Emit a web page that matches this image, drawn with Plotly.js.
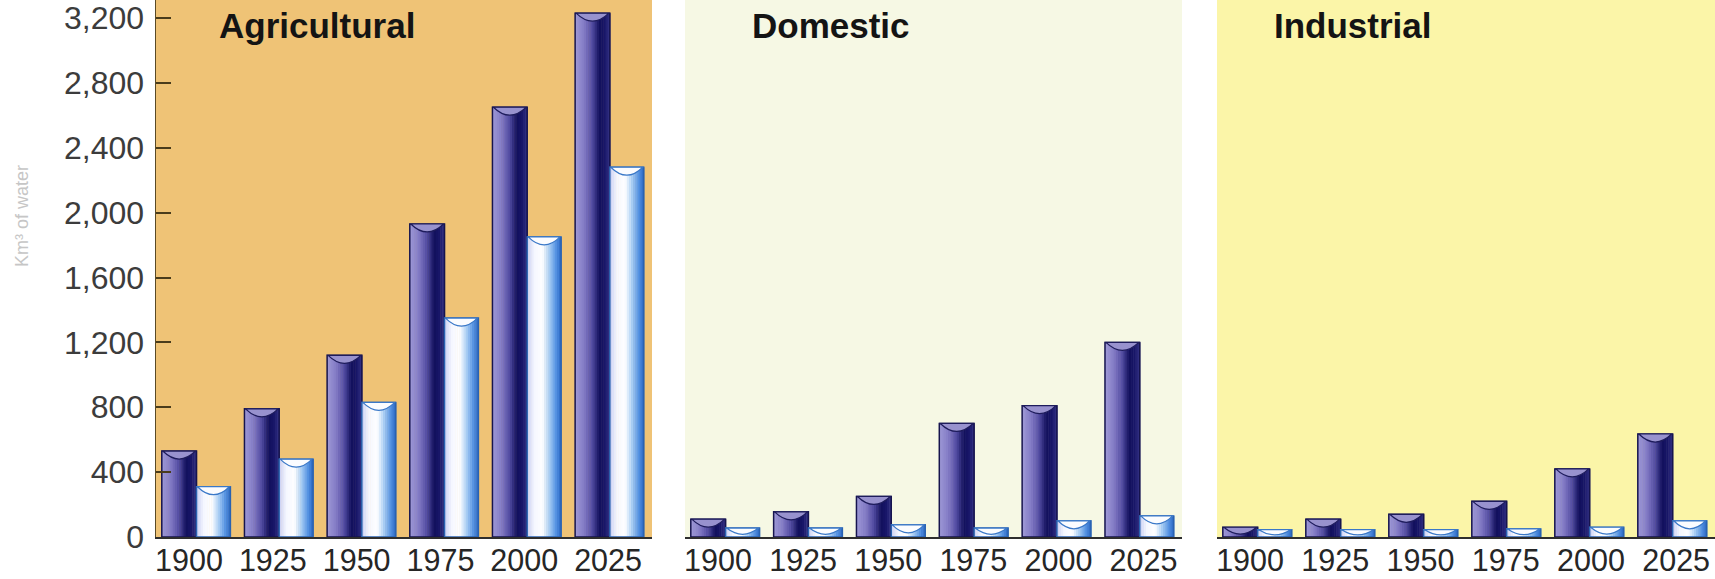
<!DOCTYPE html>
<html>
<head>
<meta charset="utf-8">
<script src="https://cdn.plot.ly/plotly-3.0.1.min.js"></script>
<style>
  html, body { margin: 0; padding: 0; background: #ffffff; }
  #chart { width: 1715px; height: 579px; }
</style>
</head>
<body>
<div id="chart"></div>
<script>
// ---- Data (km³ of water) ----
const years = ['1900', '1925', '1950', '1975', '2000', '2025'];

const panelTitles = ['Agricultural', 'Domestic', 'Industrial'];

// dark (withdrawal) and light (consumption) bars for each sector
const agriculturalDark  = [530, 790, 1120, 1930, 2650, 3230];
const agriculturalLight = [310, 480, 830, 1350, 1850, 2280];

const domesticDark  = [110, 155, 250, 700, 810, 1200];
const domesticLight = [55, 55, 75, 55, 100, 130];

const industrialDark  = [60, 110, 140, 220, 420, 635];
const industrialLight = [45, 45, 45, 50, 60, 100];

const yTickVals = [0, 400, 800, 1200, 1600, 2000, 2400, 2800, 3200];
const yTickText = ['0', '400', '800', '1,200', '1,600', '2,000', '2,400', '2,800', '3,200'];

const yAxisTitle = 'Km³ of water';

// ---- Styling helpers ----
const FONT = '"Liberation Sans", Arial, Helvetica, sans-serif';

const darkStops = [
  [0.00, [158, 152, 214]],
  [0.25, [132, 124, 198]],
  [0.50, [80, 74, 160]],
  [0.70, [18, 16, 92]],
  [0.85, [24, 22, 104]],
  [1.00, [52, 50, 132]]
];
const lightStops = [
  [0.00, [200, 206, 242]],
  [0.20, [244, 246, 255]],
  [0.45, [255, 255, 255]],
  [0.65, [170, 206, 244]],
  [0.85, [84, 146, 226]],
  [1.00, [44, 104, 196]]
];

function interp(stops, t) {
  for (let i = 0; i < stops.length - 1; i++) {
    const [t0, c0] = stops[i];
    const [t1, c1] = stops[i + 1];
    if (t >= t0 && t <= t1) {
      const f = (t - t0) / (t1 - t0 || 1);
      const c = c0.map((v, k) => Math.round(v + (c1[k] - v) * f));
      return 'rgb(' + c.join(',') + ')';
    }
  }
  const c = stops[stops.length - 1][1];
  return 'rgb(' + c.join(',') + ')';
}

const W = 1715, H = 579, B = 42;
const plotH = H - B;
const yTop = 3200 * plotH / (plotH - 18);
const capDepth = 8 * yTop / plotH;   // ~8 px deep cylinder cap, in data units

const STRIPS = 16;
function cylinderTraces(values, xa, ya, offset, width, stops, lineColor) {
  const out = [];
  const w = width / STRIPS;
  for (let i = 0; i < STRIPS; i++) {
    out.push({
      type: 'bar', x: years, y: values, xaxis: xa, yaxis: ya,
      offset: offset + i * w, width: w * 1.25,
      marker: { color: interp(stops, (i + 0.5) / STRIPS), line: { width: 0 } },
      hoverinfo: 'skip', showlegend: false
    });
  }
  out.push({
    type: 'bar', x: years, y: values, xaxis: xa, yaxis: ya,
    offset: offset, width: width,
    marker: { color: 'rgba(0,0,0,0)', line: { color: lineColor, width: 1.5 } },
    hovertemplate: '%{x}: %{y}<extra></extra>', showlegend: false
  });
  return out;
}

// half-ellipse cap at the top of each bar, built from the data values
function capShapes(values, xa, ya, offset, width, fill, lineColor) {
  return values.map((v, i) => {
    const d = Math.min(capDepth, v * 0.7);
    const x0 = i + offset + 0.012, x1 = i + offset + width - 0.012, xc = (x0 + x1) / 2;
    return {
      type: 'path', layer: 'above', xref: xa, yref: ya,
      path: 'M' + x0 + ',' + v + ' Q' + xc + ',' + (v - 2 * d) + ' ' + x1 + ',' + v + ' Z',
      fillcolor: fill, line: { color: lineColor, width: 1.2 }
    };
  });
}

const panels = [
  { dark: agriculturalDark, light: agriculturalLight, xa: 'x',  ya: 'y',  la: 'x4' },
  { dark: domesticDark,     light: domesticLight,     xa: 'x2', ya: 'y2', la: 'x5' },
  { dark: industrialDark,   light: industrialLight,   xa: 'x3', ya: 'y3', la: 'x6' }
];

const DARK_OFF = -0.43, DARK_W = 0.42, LIGHT_OFF = -0.01, LIGHT_W = 0.41;

let data = [];
let caps = [];
panels.forEach(p => {
  data = data.concat(cylinderTraces(p.dark, p.xa, p.ya, DARK_OFF, DARK_W, darkStops, '#16144e'));
  data = data.concat(cylinderTraces(p.light, p.xa, p.ya, LIGHT_OFF, LIGHT_W, lightStops, '#2a62b0'));
  caps = caps.concat(capShapes(p.dark, p.xa, p.ya, DARK_OFF, DARK_W, '#9892ce', '#1e1c5c'));
  caps = caps.concat(capShapes(p.light, p.xa, p.ya, LIGHT_OFF, LIGHT_W, '#fbfcff', '#3a78c8'));
  // invisible carrier so the year-label axis of this panel is drawn
  data.push({
    type: 'scatter', mode: 'markers', x: years.map(Number), y: p.dark,
    xaxis: p.la, yaxis: p.ya, marker: { opacity: 0, size: 1 },
    hoverinfo: 'skip', showlegend: false
  });
});

const xDomains = [
  [156 / W, 652 / W],
  [685 / W, 1182 / W],
  [1217 / W, 1.0]
];
// year labels in the original are spaced slightly wider than the bar groups
const labelRanges = [
  [1890.15, 2038.1],
  [1890.3, 2036.3],
  [1890.3, 2036.4]
];
const panelBg = ['#efc376', '#f6f8e4', '#fbf5a8'];
const titleX = [0.122, 0.13, 0.11];

function xAxis(domain, anchor) {
  return {
    domain: domain, anchor: anchor, type: 'category',
    range: [-0.5, 5.5], fixedrange: true,
    showline: true, linecolor: '#2e2e2e', linewidth: 2,
    ticks: '', showgrid: false, zeroline: false, showticklabels: false
  };
}
function labelAxis(domain, anchor, overlay, range) {
  return {
    domain: domain, anchor: anchor, overlaying: overlay, type: 'linear',
    range: range, fixedrange: true,
    showline: false, ticks: '', showgrid: false, zeroline: false,
    tickvals: years.map(Number), ticktext: years,
    ticklabelstandoff: 2,
    tickfont: { family: FONT, size: 30.5, color: '#262626' }
  };
}
function yAxis(anchor, labels) {
  const ax = {
    domain: [0, 1], anchor: anchor, range: [0, yTop], fixedrange: true,
    showgrid: false, zeroline: false,
    tickvals: yTickVals, ticktext: yTickText
  };
  if (labels) {
    Object.assign(ax, {
      showline: true, linecolor: '#5a4a26', linewidth: 1.5,
      ticks: 'inside', ticklen: 15, tickwidth: 2, tickcolor: '#4a3c1c',
      ticklabelstandoff: 4,
      tickfont: { family: FONT, size: 32, color: '#3c3c3c' }
    });
  } else {
    Object.assign(ax, { showline: false, ticks: '', showticklabels: false });
  }
  return ax;
}

const bgShapes = panelBg.map((c, i) => ({
  type: 'rect', layer: 'below',
  xref: (i === 0 ? 'x' : 'x' + (i + 1)) + ' domain',
  yref: (i === 0 ? 'y' : 'y' + (i + 1)) + ' domain',
  x0: 0, x1: 1, y0: 0, y1: 1,
  fillcolor: c, line: { width: 0 }
}));

const layout = {
  width: W, height: H,
  margin: { l: 0, r: 0, t: 0, b: B, pad: 0 },
  paper_bgcolor: '#ffffff',
  plot_bgcolor: 'rgba(0,0,0,0)',
  barmode: 'overlay',
  showlegend: false,
  font: { family: FONT },
  xaxis:  xAxis(xDomains[0], 'y'),
  xaxis2: xAxis(xDomains[1], 'y2'),
  xaxis3: xAxis(xDomains[2], 'y3'),
  xaxis4: labelAxis(xDomains[0], 'y',  'x',  labelRanges[0]),
  xaxis5: labelAxis(xDomains[1], 'y2', 'x2', labelRanges[1]),
  xaxis6: labelAxis(xDomains[2], 'y3', 'x3', labelRanges[2]),
  yaxis:  yAxis('x', true),
  yaxis2: yAxis('x2', false),
  yaxis3: yAxis('x3', false),
  shapes: bgShapes.concat(caps),
  annotations: panelTitles.map((t, i) => ({
    text: '<b>' + t + '</b>', showarrow: false,
    xref: (i === 0 ? 'x' : 'x' + (i + 1)) + ' domain',
    yref: (i === 0 ? 'y' : 'y' + (i + 1)) + ' domain',
    x: titleX[i], y: 1 - 26 / plotH, xanchor: 'left', yanchor: 'middle',
    font: { family: FONT, size: 35, color: '#141414' }
  })).concat([{
    text: yAxisTitle, showarrow: false, textangle: -90,
    xref: 'paper', yref: 'paper',
    x: 22 / W, y: 1 - 216 / plotH, xanchor: 'center', yanchor: 'middle',
    font: { family: FONT, size: 18, color: '#c6c6c6' }
  }])
};

Plotly.newPlot('chart', data, layout, { displayModeBar: false, staticPlot: true });
</script>
</body>
</html>
